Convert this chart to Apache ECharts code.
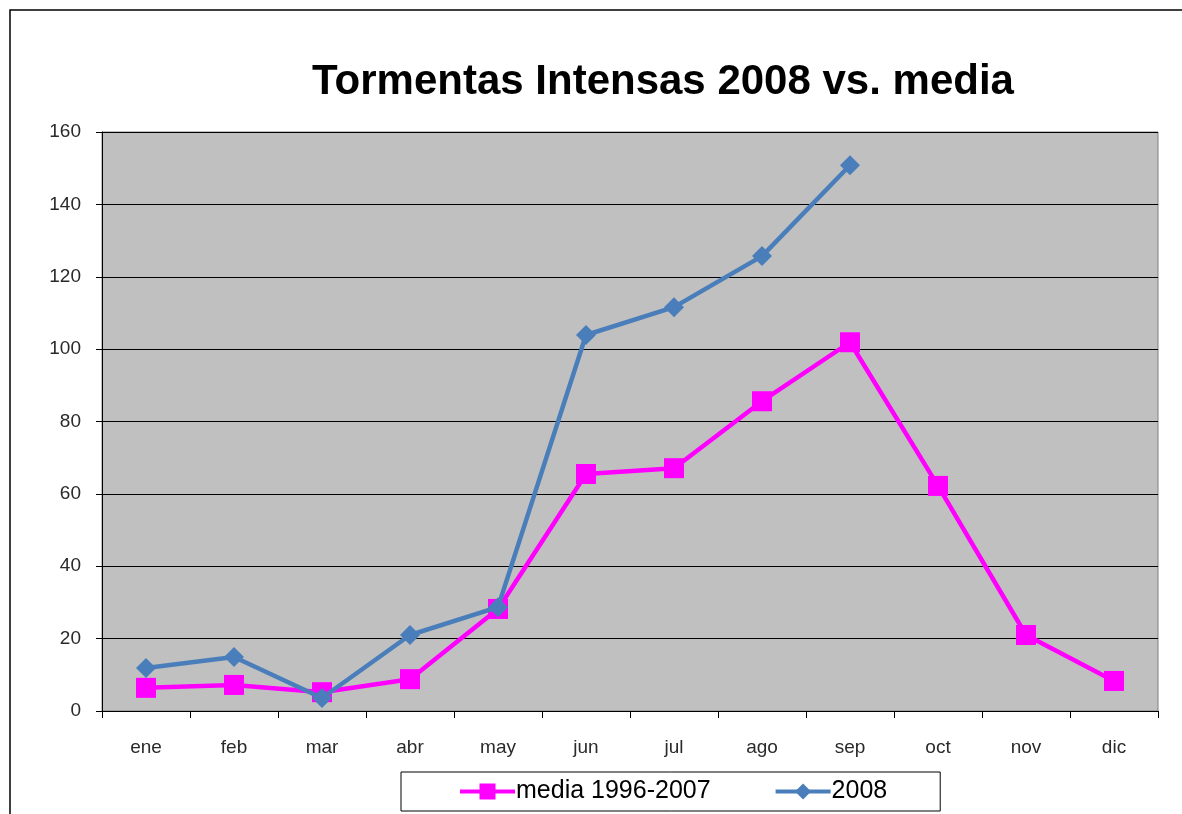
<!DOCTYPE html>
<html>
<head>
<meta charset="utf-8">
<script src="https://cdn.jsdelivr.net/npm/echarts@6/dist/echarts.min.js"></script>
<style>
  html, body { margin: 0; padding: 0; background: #fff; }
  #chart { width: 1182px; height: 814px; }
</style>
</head>
<body>
<div id="chart"></div>
<script>
// meses
var months = ["ene", "feb", "mar", "abr", "may", "jun", "jul", "ago", "sep", "oct", "nov", "dic"];
// media 1996-2007
var media = [6.4, 7.2, 5.2, 8.8, 28.2, 65.5, 67.1, 85.6, 101.9, 62.2, 21, 8.3];
// 2008 (hasta septiembre)
var y2008 = [11.9, 14.9, 3.6, 21, 28.7, 103.9, 111.6, 125.7, 150.8];

var chart = echarts.init(document.getElementById("chart"));
var option = {
  backgroundColor: "#fff",
  animation: false,
  title: {
    text: "Tormentas Intensas 2008 vs. media",
    left: 658,
    top: 56,
    textAlign: "center",
    textStyle: {
      fontFamily: "Liberation Sans",
      fontSize: 42,
      fontWeight: "bold",
      color: "#000"
    }
  },
  graphic: [
    {
      type: "rect",
      shape: { x: 10, y: 10, width: 1190, height: 830 },
      style: { fill: null, stroke: "#000", lineWidth: 1.5 },
      silent: true
    }
  ],
  legend: {
    left: 401,
    top: 772,
    padding: [7, 53, 7, 57],
    itemGap: 63,
    itemWidth: 55,
    itemHeight: 20,
    borderColor: "#000",
    borderWidth: 1,
    lineStyle: { width: 4 },
    textStyle: {
      fontFamily: "Liberation Sans",
      fontSize: 25,
      color: "#000",
      padding: [0, 0, 0, -4]
    },
    data: ["media 1996-2007", "2008"]
  },
  grid: {
    left: 102,
    right: 24,
    top: 132,
    bottom: 103,
    show: true,
    backgroundColor: "#c0c0c0",
    borderColor: "#808080",
    borderWidth: 1
  },
  xAxis: {
    type: "category",
    data: months,
    boundaryGap: true,
    axisLine: { lineStyle: { color: "#000", width: 1 } },
    axisTick: { show: true, length: 7, lineStyle: { color: "#000" } },
    axisLabel: {
      margin: 27,
      fontFamily: "Liberation Sans",
      fontSize: 19,
      color: "#2a2a2a"
    }
  },
  yAxis: {
    type: "value",
    min: 0,
    max: 160,
    interval: 20,
    axisLine: { show: true, lineStyle: { color: "#000", width: 1 } },
    axisTick: { show: true, length: 6, lineStyle: { color: "#000" } },
    splitLine: { show: true, lineStyle: { color: "#000", width: 1 } },
    axisLabel: {
      margin: 21,
      fontFamily: "Liberation Sans",
      fontSize: 19,
      color: "#2a2a2a"
    }
  },
  series: [
    {
      name: "media 1996-2007",
      type: "line",
      data: media,
      symbol: "rect",
      symbolSize: 20,
      lineStyle: { color: "#ff00ff", width: 4.5 },
      itemStyle: { color: "#ff00ff" },
      z: 2
    },
    {
      name: "2008",
      type: "line",
      data: y2008,
      symbol: "diamond",
      symbolSize: 20,
      lineStyle: { color: "#4a7ebb", width: 4.5 },
      itemStyle: { color: "#4a7ebb" },
      z: 3
    }
  ]
};
chart.setOption(option);
</script>
</body>
</html>
